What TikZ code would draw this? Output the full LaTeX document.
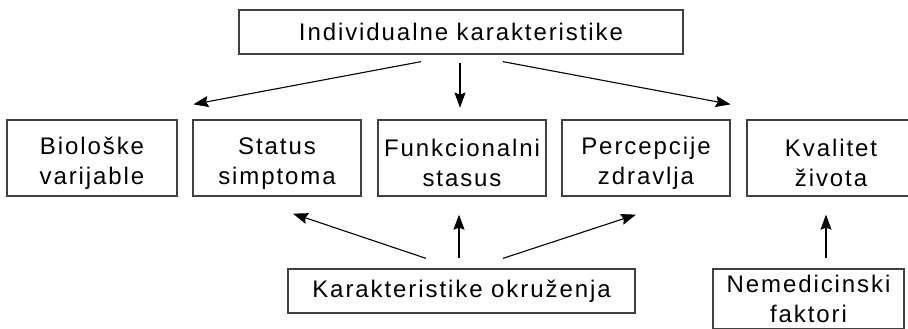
\documentclass[tikz,border=0pt]{standalone}
\usepackage{fontspec}
\setmainfont[LetterSpace=8]{Liberation Sans}
\usetikzlibrary{arrows.meta,calc}
% extra height on a first line, lowering a two-line label in its box
\newcommand\tallline{\rule{0pt}{27.5pt}}
\begin{document}
\begin{tikzpicture}[x=1pt,y=-1pt,
  box/.style={draw=black!75,line width=1.3pt,rectangle,inner sep=0pt,align=center,
    font=\fontsize{24}{30}\selectfont},
  rowbox/.style={box,minimum width=168pt,minimum height=76pt},
  wide/.style={box,minimum height=44pt},
  arr/.style={line width=1.1pt,-{Stealth[length=15pt,width=11pt,inset=2pt]}}]
\clip (0,0) rectangle (908,329);
\fill[white] (0,0) rectangle (908,329);

% source of the individual characteristics
\node[wide,minimum width=444pt] (ind) at (461,32) {Individualne karakteristike};

% row of outcome boxes
\node[rowbox,minimum width=170pt] (bio) at (92,158) {\tallline Biološke\\varijable};
\node[rowbox] (sim) at (277,158) {\tallline Status\\simptoma};
\node[rowbox] (fun) at (462,158) {\tallline Funkcionalni\\stasus};
\node[rowbox] (per) at (646,158) {\tallline Percepcije\\zdravlja};
\node[rowbox] (kva) at (831,158) {\tallline Kvalitet\\života};

% lower sources
\node[wide,minimum width=347pt] (env) at (461.5,291) {Karakteristike okruženja};
\node[box,minimum width=191pt,minimum height=60pt] (nem) at (808.5,299) {Nemedicinski\\faktori};

% influences from the individual characteristics
\draw[arr] ($(ind.south)+(-40,7)$) -- ($(sim.north west)+(1,-15)$);
\draw[arr] ($(ind.south)+(-1,8)$) -- ($(ind.south)+(-1,53)$);
\draw[arr] ($(ind.south)+(42,7)$) -- ($(per.north east)+(0,-15)$);

% influences from the environment
\draw[arr] ($(env.north)+(-35.5,-10)$) -- ($(sim.south)+(16,17)$);
\draw[arr] ($(env.north)+(-2.5,-10)$) -- ($(fun.south)+(-3,18)$);
\draw[arr] ($(env.north)+(41.5,-10)$) -- ($(per.south)+(-10,18)$);

% non-medical factors feed quality of life
\draw[arr] ($(nem.north)+(17.5,-10)$) -- ($(kva.south)+(-5,18)$);
\end{tikzpicture}
\end{document}
